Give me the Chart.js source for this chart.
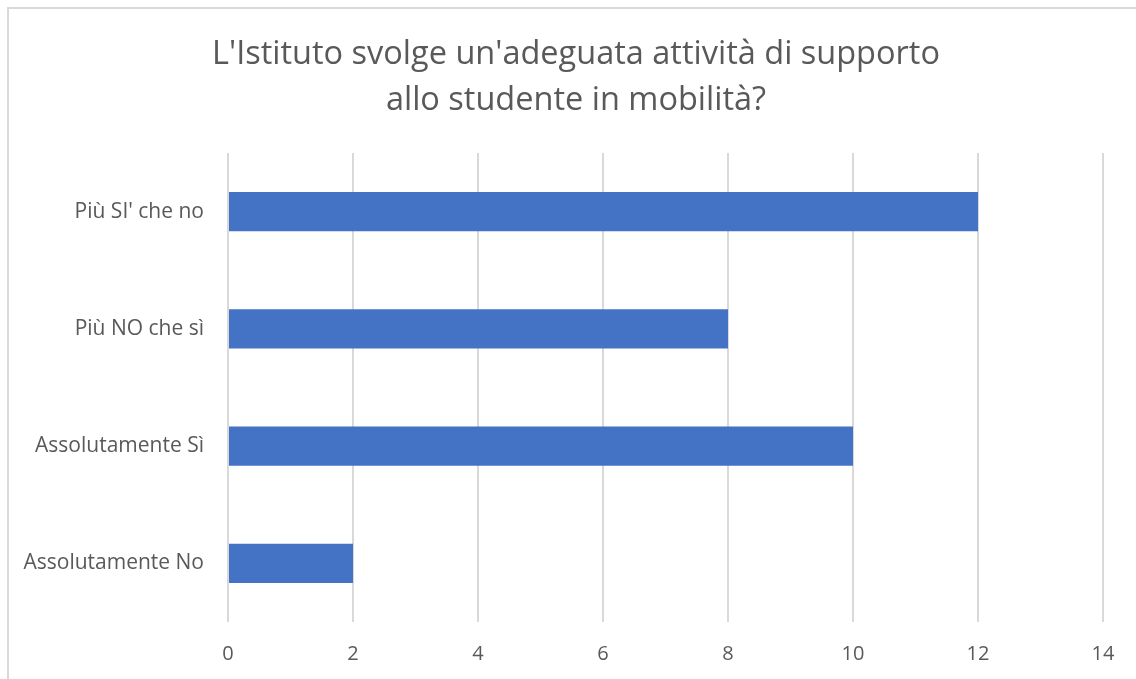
<!DOCTYPE html>
<html>
<head>
<meta charset="utf-8">
<script src="https://cdn.jsdelivr.net/npm/chart.js@4"></script>
<style>
  html, body { margin: 0; padding: 0; background: #fff; }
  #wrap { position: relative; width: 1136px; height: 679px; overflow: hidden; }
  #frame { position: absolute; left: 7px; top: 7px; width: 1140px; height: 690px; border: 2px solid #d9d9d9; pointer-events: none; }
</style>
</head>
<body>
<div id="wrap">
  <canvas id="barChart" width="1136" height="679"></canvas>
  <div id="frame"></div>
</div>
<script>
// Categories and values
const categories = ["Più SI' che no", "Più NO che sì", "Assolutamente Sì", "Assolutamente No"];
const answers = [12, 8, 10, 2];
const xTicks = [0, 2, 4, 6, 8, 10, 12, 14];

const textColor = "#595959";
const gridColor = "#d9d9d9";

const ctx = document.getElementById("barChart").getContext("2d");
new Chart(ctx, {
  type: "bar",
  data: {
    labels: categories,
    datasets: [
      {
        data: answers,
        backgroundColor: "#4472C4",
        borderWidth: 0,
        barPercentage: 0.333,
        categoryPercentage: 1,
      },
    ],
  },
  options: {
    indexAxis: "y",
    responsive: false,
    animation: false,
    layout: { padding: { left: 16, right: 0, top: 0, bottom: 0 } },
    plugins: {
      legend: { display: false },
      tooltip: { enabled: false },
      title: {
        display: true,
        text: ["L'Istituto svolge un'adeguata attività di supporto", "allo studente in mobilità?"],
        color: textColor,
        font: { family: "Open Sans", size: 32.5, weight: "normal", lineHeight: 1.4 },
        padding: { top: 32, bottom: 30 },
      },
    },
    scales: {
      x: {
        min: 0,
        max: 14,
        afterBuildTicks: (axis) => {
          axis.ticks = xTicks.map((v) => ({ value: v }));
        },
        afterFit: (axis) => {
          axis.height = 57;
          axis.paddingRight = 33;
        },
        grid: { color: gridColor, lineWidth: 2, drawTicks: false },
        border: { display: false },
        ticks: {
          color: textColor,
          padding: 20,
          font: { family: "Open Sans", size: 20 },
        },
      },
      y: {
        afterFit: (axis) => {
          axis.width = 212;
        },
        grid: { display: false, drawTicks: false },
        border: { display: false },
        ticks: {
          color: textColor,
          padding: 24,
          font: { family: "Open Sans", size: 21 },
        },
      },
    },
  },
});
</script>
</body>
</html>
